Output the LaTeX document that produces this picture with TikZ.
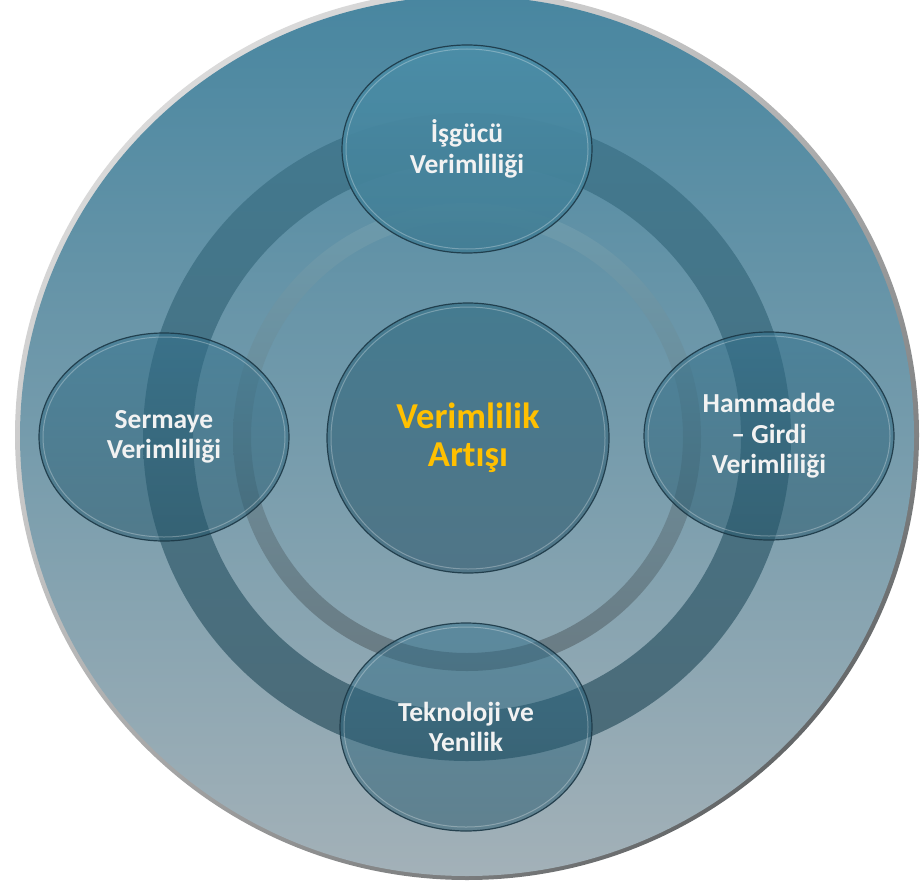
\documentclass[tikz,border=0pt]{standalone}
\usepackage{fontspec}
\setmainfont{Carlito}[Ligatures=NoCommon]
\usetikzlibrary{shapes.geometric,shadings}
\definecolor{bgtop}{RGB}{72,134,160}
\definecolor{bgmid}{RGB}{100,140,155}
\definecolor{bgbot}{RGB}{163,177,184}
\definecolor{bandtop}{RGB}{66,121,143}
\definecolor{bandbot}{RGB}{76,107,120}
\definecolor{ringtop}{RGB}{108,155,173}
\definecolor{ringbot}{RGB}{106,123,131}
\definecolor{elltop}{RGB}{48,112,140}
\definecolor{ellbot}{RGB}{35,85,105}
\definecolor{topell1}{RGB}{75,142,168}
\definecolor{topell2}{RGB}{66,125,148}
\definecolor{edgecol}{RGB}{28,56,70}
\definecolor{goldtxt}{RGB}{255,192,0}
\definecolor{ctop}{RGB}{68,122,143}
\definecolor{cbot}{RGB}{78,115,133}
\definecolor{rimlight}{RGB}{236,236,236}
\definecolor{rimdark}{RGB}{70,74,76}
\begin{document}
\begin{tikzpicture}[x=1pt,y=-1pt,
  glass/.style={ellipse, draw=edgecol, line width=1.2pt,
    top color=elltop, bottom color=ellbot,
    fill opacity=0.5, draw opacity=0.9, text opacity=1,
    text=white!95!black, align=center,
    font=\bfseries\fontsize{27.5}{30.5}\selectfont,
    minimum width=250pt, minimum height=208pt, inner sep=0pt},
  glasstop/.style={glass, top color=topell1, bottom color=topell2, fill opacity=0.92},
  hub/.style={ellipse, draw=edgecol, line width=1.2pt,
    top color=ctop, bottom color=cbot,
    fill opacity=0.95, draw opacity=0.9, text opacity=1,
    text=goldtxt, align=center,
    font=\bfseries\fontsize{36.5}{38}\selectfont,
    minimum width=282pt, minimum height=270pt, inner sep=0pt},
  shine/.style={draw=white, draw opacity=0.28, line width=1pt}]
\useasboundingbox (0,0) rectangle (920,880);
\clip (0,0) rectangle (920,880);
% outer rim and disc
\shade[upper left=rimlight, upper right=gray!55, lower left=gray!65, lower right=rimdark]
  (467,435) ellipse [x radius=452, y radius=445];
\shade[top color=bgtop, middle color=bgmid, bottom color=bgbot]
  (467,436) ellipse [x radius=447, y radius=440];
% dark band
\shade[even odd rule, top color=bandtop, bottom color=bandbot]
  (467,437) circle (324) (467,437) circle (274);
% thin inner ring
\shade[even odd rule, top color=ringtop, bottom color=ringbot]
  (467,437) circle (234) (467,437) circle (216);
% nodes
\node[hub] (c) at (468,438) {Verimlilik\\Artışı};
\node[glasstop] (t) at (467,149) {İşgücü\\Verimliliği};
\node[glass] (l) at (164,437) {Sermaye\\Verimliliği};
\node[glass] (r) at (769,436) {Hammadde\\– Girdi\\Verimliliği};
\node[glass, minimum width=252pt] (b) at (466,727) {Teknoloji ve\\Yenilik};
% inner highlights
\draw[shine] (c.center) ellipse [x radius=137, y radius=131];
\draw[shine] (t.center) ellipse [x radius=121, y radius=100];
\draw[shine] (l.center) ellipse [x radius=121, y radius=100];
\draw[shine] (r.center) ellipse [x radius=121, y radius=100];
\draw[shine] (b.center) ellipse [x radius=122, y radius=100];
\end{tikzpicture}
\end{document}
